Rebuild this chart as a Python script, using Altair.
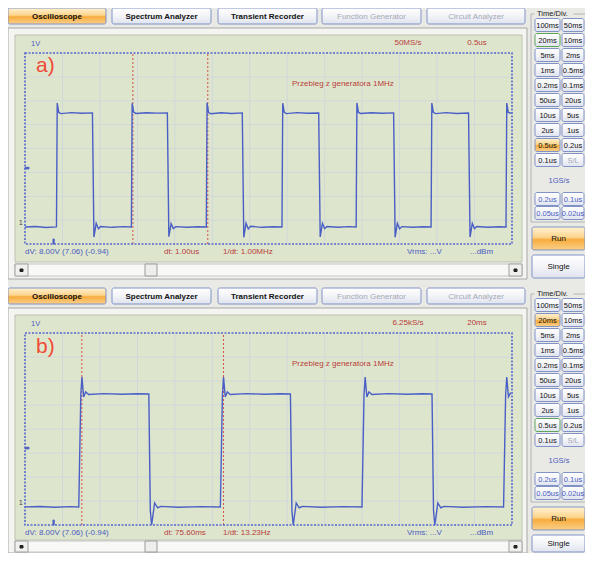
import altair as alt
import pandas as pd

# ---------------- values ----------------
# panel a) 0.5 us/div : (time in us, level in V)
A_WAVE = [
    (0.00, -0.94), (0.14, -0.90), (0.28, -0.97), (0.42, -0.93),
    (0.43, 7.76), (0.45, 7.10), (0.48, 7.02), (0.62, 7.09), (0.76, 7.04), (0.90, 7.07),
    (0.92, -1.64), (0.95, -0.68), (0.98, -1.06), (1.01, -0.90), (1.16, -0.96), (1.31, -0.91), (1.42, -0.94),
    (1.43, 7.74), (1.45, 7.12), (1.48, 7.03), (1.62, 7.08), (1.76, 7.05), (1.90, 7.06),
    (1.92, -1.62), (1.95, -0.70), (1.98, -1.05), (2.01, -0.91), (2.16, -0.95), (2.31, -0.92), (2.42, -0.94),
    (2.43, 7.78), (2.45, 7.09), (2.48, 7.01), (2.62, 7.08), (2.76, 7.03), (2.90, 7.07),
    (2.92, -1.66), (2.95, -0.67), (2.98, -1.07), (3.01, -0.89), (3.16, -0.96), (3.31, -0.92), (3.43, -0.94),
    (3.44, 7.75), (3.46, 7.11), (3.49, 7.02), (3.63, 7.09), (3.77, 7.04), (3.92, 7.06),
    (3.94, -1.63), (3.97, -0.69), (4.00, -1.05), (4.03, -0.90), (4.18, -0.95), (4.32, -0.91), (4.42, -0.94),
    (4.43, 7.77), (4.45, 7.10), (4.48, 7.03), (4.62, 7.08), (4.76, 7.04), (4.92, 7.07),
    (4.94, -1.65), (4.97, -0.68), (5.00, -1.06), (5.03, -0.91), (5.18, -0.96), (5.32, -0.92), (5.42, -0.94),
    (5.43, 7.76), (5.45, 7.11), (5.48, 7.02), (5.62, 7.09), (5.76, 7.03), (5.92, 7.06),
    (5.94, -1.64), (5.97, -0.69), (6.00, -1.05), (6.03, -0.90), (6.18, -0.95), (6.32, -0.92), (6.42, -0.94),
    (6.43, 7.76), (6.45, 7.10), (6.49, 7.04),
]
A_CURSORS = [1.44, 2.44]          # us
# panel b) 20 ms/div : (time in ms, level in V)
B_WAVE = [
    (0.0, -0.94), (8.0, -0.91), (16.0, -0.96), (24.0, -0.92), (28.7, -0.94),
    (29.8, 7.00), (30.4, 8.26), (31.3, 6.85), (32.4, 7.20), (34.0, 7.02), (42.0, 7.08), (52.0, 7.03), (60.0, 7.07), (66.1, 7.05),
    (66.9, -1.20), (67.6, -2.22), (69.2, -0.66), (70.8, -1.00), (72.5, -0.90), (82.0, -0.96), (94.0, -0.92), (104.3, -0.94),
    (105.4, 7.00), (106.0, 8.26), (106.9, 6.85), (108.0, 7.20), (109.6, 7.02), (118.0, 7.08), (128.0, 7.03), (136.0, 7.07), (141.7, 7.05),
    (142.5, -1.20), (143.2, -2.22), (144.8, -0.66), (146.4, -1.00), (148.1, -0.90), (158.0, -0.96), (170.0, -0.92), (179.9, -0.94),
    (181.0, 7.00), (181.6, 8.26), (182.5, 6.85), (183.6, 7.20), (185.2, 7.02), (194.0, 7.08), (204.0, 7.03), (212.0, 7.07), (217.3, 7.05),
    (218.1, -1.20), (218.8, -2.22), (220.4, -0.66), (222.0, -1.00), (223.7, -0.90), (234.0, -0.96), (246.0, -0.92), (255.5, -0.94),
    (256.6, 7.00), (257.2, 8.26), (258.1, 6.85), (259.3, 7.15),
]
B_CURSORS = [30.35, 105.95]       # ms

TABS = ["Oscilloscope", "Spectrum Analyzer", "Transient Recorder", "Function Generator", "Circuit Analyzer"]
TABS_ENABLED = [True, True, True, False, False]
TIME_COL1 = ["100ms", "20ms", "5ms", "1ms", "0.2ms", "50us", "10us", "2us", "0.5us", "0.1us"]
TIME_COL2 = ["50ms", "10ms", "2ms", "0.5ms", "0.1ms", "20us", "5us", "1us", "0.2us", "S/L"]
FAST_COL1 = ["0.2us", "0.05us"]
FAST_COL2 = ["0.1us", "0.02us"]

PANELS = [
    dict(tag="a)", wave=A_WAVE, cursors=A_CURSORS, tdiv=0.5, ydom=[-2.13, 11.27],
         rate="50MS/s", tb="0.5us", dv="dV: 8.00V  (7.06) (-0.94)", dt="dt: 1.00us",
         f="1/dt: 1.00MHz", sel="0.5us", hover="20ms", dy=0, gtop=53, gbot=244),
    dict(tag="b)", wave=B_WAVE, cursors=B_CURSORS, tdiv=20, ydom=[-2.22, 11.37],
         rate="6.25kS/s", tb="20ms", dv="dV: 8.00V  (7.06) (-0.94)", dt="dt: 75.60ms",
         f="1/dt: 13.23Hz", sel="20ms", hover="0.5us", dy=280, gtop=333, gbot=525),
]
TITLE = "Przebieg z generatora 1MHz"

# ---------------- styling / layout ----------------
W, H = 577, 545
BG = "#e9e9e5"
FRAME = "#f4f4f1"
GREEN = "#dee5cd"
WAVE = "#4a5fc6"
BLUE_TXT = "#4a5cc0"
RED_TXT = "#b8403c"
FONT = "Liberation Sans"
N_XDIV, N_YDIV = 13, 8
BOTTOM = 552

PXS = alt.Scale(domain=[8, 8 + W], range=[0, W], nice=False, zero=False)
PYS = alt.Scale(domain=[8, 8 + H], range=[0, H], nice=False, zero=False)

frames, buttons, oranges, txt_c, txt_cb, txt_l = [], [], [], [], [], []

def btn(x, x2, y, y2, label, color="#111111", size=7.5, sel=False, hover=False, bold=False):
    row = dict(x=x, x2=x2, y=y, y2=y2, stroke="#5ea35a" if hover else "#8193c6")
    (oranges if sel else buttons).append(row)
    (txt_cb if bold else txt_c).append(dict(x=(x + x2) / 2, y=(y + y2) / 2 + 0.5, label=label,
                                            color=color, size=size))

for p in PANELS:
    dy = p["dy"]
    # outer frame, green screen, scroll bar
    frames.append(dict(x=8, x2=527, y=28 + dy, y2=min(279 + dy, BOTTOM + 1), fill=FRAME, stroke="#a8a8a8"))
    frames.append(dict(x=15, x2=522, y=35 + dy, y2=min(262 + dy, 540), fill=GREEN, stroke="#bcc3b2"))
    sy1, sy2 = min(264 + dy, 541), min(276 + dy, BOTTOM)
    frames.append(dict(x=15, x2=522, y=sy1, y2=sy2, fill="#f8f8f6", stroke="#c4c4c4"))
    frames.append(dict(x=15, x2=28, y=sy1, y2=sy2, fill="#f0f0ee", stroke="#a0a0a0"))
    frames.append(dict(x=509, x2=522, y=sy1, y2=sy2, fill="#f0f0ee", stroke="#a0a0a0"))
    frames.append(dict(x=145, x2=157, y=sy1, y2=sy2, fill="#eeeeec", stroke="#9a9a9a"))
    frames.append(dict(x=20, x2=23, y=(sy1 + sy2) / 2 - 1, y2=(sy1 + sy2) / 2 + 1.5, fill="#222222", stroke="#222222"))
    frames.append(dict(x=514, x2=517, y=(sy1 + sy2) / 2 - 1, y2=(sy1 + sy2) / 2 + 1.5, fill="#222222", stroke="#222222"))
    # time/div group box
    frames.append(dict(x=531, x2=590, y=14 + dy, y2=222 + dy, fill=BG, stroke="#b4b4b4"))
    frames.append(dict(x=535, x2=573, y=9 + dy, y2=16 + dy, fill=BG, stroke=BG))
    txt_l.append(dict(x=537, y=13.5 + dy, label="Time/Div.", color="#222222", size=7.5))
    # markers on the screen
    trig = 168 if dy == 0 else 448
    frames.append(dict(x=25, x2=29, y=trig - 0.7, y2=trig + 0.9, fill=WAVE, stroke=WAVE))
    frames.append(dict(x=53, x2=54.2, y=p["gbot"] - 5, y2=p["gbot"], fill=WAVE, stroke=WAVE))
    txt_l.append(dict(x=19, y=(223 if dy == 0 else 503), label="1", color="#333333", size=6.5))

    # tabs
    tab_x = [(8, 106), (112, 211), (218, 317), (322, 421), (427, 525)]
    for i, (lab, en) in enumerate(zip(TABS, TABS_ENABLED)):
        btn(tab_x[i][0], tab_x[i][1], 8 + dy, 24 + dy, lab,
            color="#111111" if en else "#a4a8b4", size=8, sel=(i == 0), bold=en)
    # time/div buttons
    for r, (l1, l2) in enumerate(zip(TIME_COL1, TIME_COL2)):
        cy = 25 + 15 * r + dy
        btn(535, 560, cy - 6.5, cy + 6.5, l1, sel=(l1 == p["sel"]), hover=(l1 == p["hover"]))
        btn(562, 584, cy - 6.5, cy + 6.5, l2, color="#a4a8b4" if l2 == "S/L" else "#111111")
    txt_c.append(dict(x=559, y=181 + dy, label="1GS/s", color=BLUE_TXT, size=7.5))
    for r, (l1, l2) in enumerate(zip(FAST_COL1, FAST_COL2)):
        cy = 199 + 14 * r + dy
        btn(535, 560, cy - 6.5, cy + 6.5, l1, color=BLUE_TXT)
        btn(562, 584, cy - 6.5, cy + 6.5, l2, color=BLUE_TXT)
    btn(532, 585, 227 + dy, 250 + dy, "Run", sel=True, size=8)
    btn(532, 585, 255 + dy, min(278 + dy, BOTTOM), "Single", size=8)

    # screen texts
    txt_l.append(dict(x=31, y=44 + dy, label="1V", color=BLUE_TXT, size=7.5))
    txt_l.append(dict(x=36, y=66 + dy if dy == 0 else 347, label=p["tag"], color="#ef4a36", size=21))
    txt_c.append(dict(x=408, y=43 + dy, label=p["rate"], color=RED_TXT, size=8))
    txt_c.append(dict(x=477, y=43 + dy, label=p["tb"], color=RED_TXT, size=8))
    txt_l.append(dict(x=292, y=84 + dy, label=TITLE, color=RED_TXT, size=8))
    by = 252 if dy == 0 else 533
    txt_l.append(dict(x=25, y=by, label=p["dv"], color=BLUE_TXT, size=8))
    txt_l.append(dict(x=164, y=by, label=p["dt"], color=RED_TXT, size=8))
    txt_l.append(dict(x=223, y=by, label=p["f"], color=RED_TXT, size=8))
    txt_l.append(dict(x=407, y=by, label="Vrms: ...V", color=BLUE_TXT, size=8))
    txt_l.append(dict(x=470, y=by, label="...dBm", color=BLUE_TXT, size=8))


def rect_layer(rows, mark):
    return alt.Chart(pd.DataFrame(rows)).mark_rect(**mark).encode(
        x=alt.X("x:Q", scale=PXS, axis=None), x2="x2:Q",
        y=alt.Y("y:Q", scale=PYS, axis=None), y2="y2:Q",
        stroke=alt.Stroke("stroke:N", scale=None),
    )


def grad(stops):
    return alt.Gradient(gradient="linear", x1=0, x2=0, y1=0, y2=1,
                        stops=[alt.GradientStop(color=c, offset=o) for o, c in stops])


layers = []
layers.append(alt.Chart(pd.DataFrame(frames)).mark_rect(strokeWidth=1).encode(
    x=alt.X("x:Q", scale=PXS, axis=None), x2="x2:Q",
    y=alt.Y("y:Q", scale=PYS, axis=None), y2="y2:Q",
    fill=alt.Fill("fill:N", scale=None), stroke=alt.Stroke("stroke:N", scale=None)))
layers.append(rect_layer(buttons, dict(cornerRadius=2, strokeWidth=1,
                                       fill=grad([(0, "#ffffff"), (0.5, "#f3f4f8"), (1, "#dfe3ee")]))))
layers.append(rect_layer(oranges, dict(cornerRadius=2, strokeWidth=1,
                                       fill=grad([(0, "#fff2d2"), (0.45, "#fcd48c"), (0.55, "#f7ad3e"), (1, "#fbd08a")]))))

for p in PANELS:
    rng_x = [25 - 8, 512 - 8]
    rng_y = [p["gbot"] - 8, p["gtop"] - 8]
    xs = alt.Scale(domain=[0, N_XDIV * p["tdiv"]], range=rng_x, nice=False, zero=False)
    ys = alt.Scale(domain=p["ydom"], range=rng_y, nice=False, zero=False)
    dxs = alt.Scale(domain=[0, N_XDIV], range=rng_x, nice=False, zero=False)
    dys = alt.Scale(domain=[0, N_YDIV], range=rng_y, nice=False, zero=False)
    grid = [dict(a=k, a2=k, b=0, b2=N_YDIV) for k in range(1, N_XDIV)] + \
           [dict(a=0, a2=N_XDIV, b=j, b2=j) for j in range(1, N_YDIV)]
    layers.append(alt.Chart(pd.DataFrame(grid)).mark_rule(color="#d0d8da", strokeWidth=1).encode(
        x=alt.X("a:Q", scale=dxs, axis=None), x2="a2:Q",
        y=alt.Y("b:Q", scale=dys, axis=None), y2="b2:Q"))
    cur = pd.DataFrame(dict(t=p["cursors"], b=[0, 0], b2=[N_YDIV, N_YDIV]))
    layers.append(alt.Chart(cur).mark_rule(color="#d2504a", strokeWidth=1, strokeDash=[2, 2]).encode(
        x=alt.X("t:Q", scale=xs, axis=None),
        y=alt.Y("b:Q", scale=dys, axis=None), y2="b2:Q"))
    wdf = pd.DataFrame(p["wave"], columns=["t", "v"])
    layers.append(alt.Chart(wdf).mark_line(color=WAVE, strokeWidth=1.4).encode(
        x=alt.X("t:Q", scale=xs, axis=None),
        y=alt.Y("v:Q", scale=ys, axis=None)))
    border = pd.DataFrame([dict(a=0, a2=N_XDIV, b=0, b2=N_YDIV)])
    layers.append(alt.Chart(border).mark_rect(fill="transparent", stroke="#5566cc", strokeWidth=1.6,
                                              strokeDash=[2, 1.5]).encode(
        x=alt.X("a:Q", scale=dxs, axis=None), x2="a2:Q",
        y=alt.Y("b:Q", scale=dys, axis=None), y2="b2:Q"))


def text_layer(rows, align, weight="normal"):
    return alt.Chart(pd.DataFrame(rows)).mark_text(align=align, baseline="middle", font=FONT,
                                                   fontWeight=weight).encode(
        x=alt.X("x:Q", scale=PXS, axis=None), y=alt.Y("y:Q", scale=PYS, axis=None),
        text="label:N", color=alt.Color("color:N", scale=None), size=alt.Size("size:Q", scale=None))


layers.append(text_layer(txt_c, "center"))
layers.append(text_layer(txt_cb, "center", "bold"))
layers.append(text_layer(txt_l, "left"))

chart = alt.layer(*layers).resolve_scale(x="independent", y="independent").properties(
    width=W, height=H, background=BG, padding=0,
    autosize=alt.AutoSizeParams(type="none"),
).configure_view(stroke=None)

chart.save("out.html", embed_options={"renderer": "svg", "actions": False})
